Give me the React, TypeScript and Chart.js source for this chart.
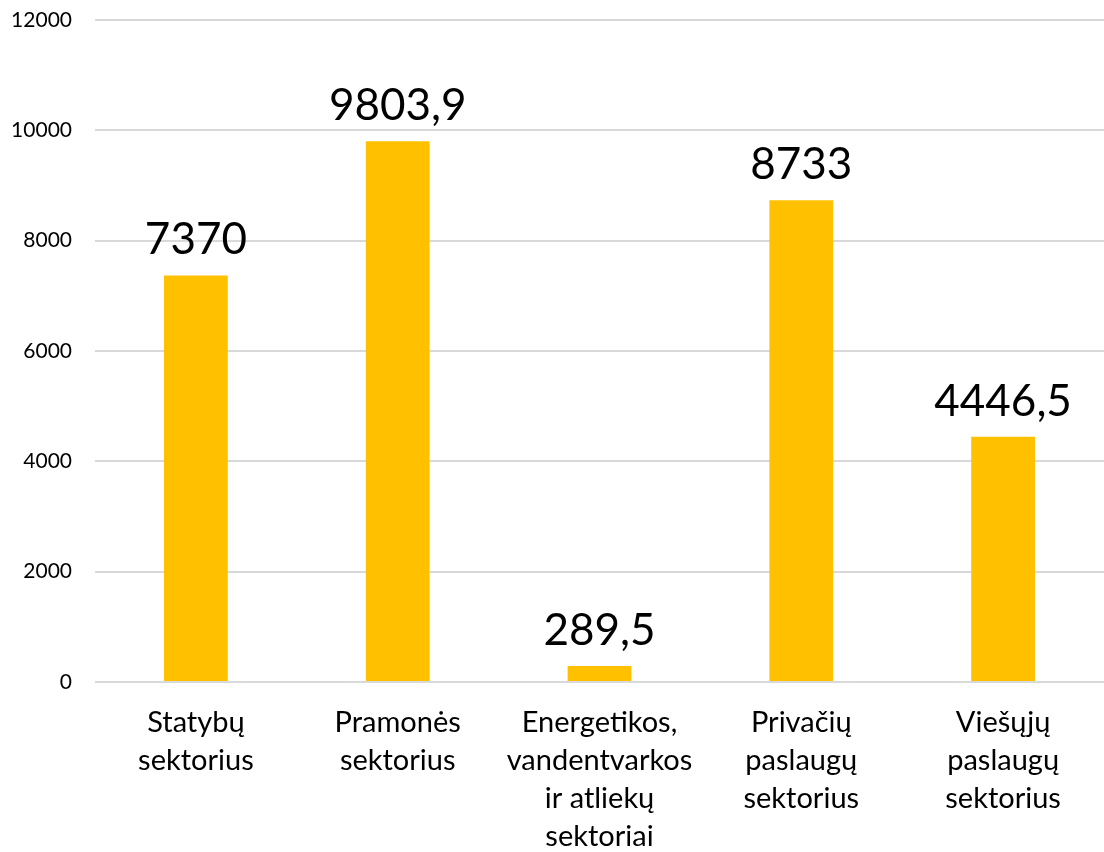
import React, { useEffect, useRef } from "react";
import { Chart, registerables } from "chart.js";

Chart.register(...registerables);

const categories: string[][] = [
  ["Statybų", "sektorius"],
  ["Pramonės", "sektorius"],
  ["Energetikos,", "vandentvarkos", "ir atliekų", "sektoriai"],
  ["Privačių", "paslaugų", "sektorius"],
  ["Viešųjų", "paslaugų", "sektorius"],
];
const values: number[] = [7370, 9803.9, 289.5, 8733, 4446.5];
const valueLabels: string[] = ["7370", "9803,9", "289,5", "8733", "4446,5"];
const yTicks: number[] = [0, 2000, 4000, 6000, 8000, 10000, 12000];

const FONT = "Lato, 'Open Sans', sans-serif";

const dataLabelPlugin = {
  id: "dataLabels",
  afterDatasetsDraw(chart: any) {
    const ctx = chart.ctx;
    const meta = chart.getDatasetMeta(0);
    ctx.save();
    ctx.fillStyle = "#000";
    ctx.font = `44px ${FONT}`;
    ctx.textAlign = "center";
    ctx.textBaseline = "alphabetic";
    meta.data.forEach((bar: any, i: number) => {
      ctx.fillText(valueLabels[i], bar.x, bar.y - 21);
    });
    ctx.restore();
  },
};

export default function App() {
  const ref = useRef<HTMLCanvasElement>(null);
  useEffect(() => {
    document.body.style.margin = "0";
    const chart = new Chart(ref.current!, {
      type: "bar",
      data: {
        labels: categories,
        datasets: [
          {
            data: values,
            backgroundColor: "#FFC000",
            barPercentage: 0.316,
            categoryPercentage: 1,
          },
        ],
      },
      options: {
        animation: false,
        responsive: false,
        layout: { padding: { top: 20, right: 0, left: 0, bottom: 0 } },
        plugins: { legend: { display: false }, tooltip: { enabled: false } },
        scales: {
          x: {
            grid: { display: false, drawTicks: false },
            border: { display: false },
            ticks: {
              color: "#000",
              font: { family: FONT, size: 29, lineHeight: 1.31 },
              maxRotation: 0,
              autoSkip: false,
              padding: 22,
            },
            afterFit: (axis: any) => {
              axis.height = 170;
            },
          },
          y: {
            min: 0,
            max: 12000,
            afterBuildTicks: (axis: any) => {
              axis.ticks = yTicks.map((v) => ({ value: v }));
            },
            afterFit: (axis: any) => {
              axis.width = 95;
            },
            grid: {
              color: "#D9D9D9",
              lineWidth: 2,
              drawTicks: true,
              tickLength: 23,
              tickColor: "rgba(0,0,0,0)",
            },
            border: { display: false },
            ticks: {
              color: "#000",
              font: { family: FONT, size: 21 },
              padding: 0,
              callback: (v: any) => String(v),
            },
          },
        },
      },
      plugins: [dataLabelPlugin],
    });
    return () => chart.destroy();
  }, []);
  return (
    <div style={{ position: "absolute", left: 0, top: 0, width: 1104, height: 852 }}>
      <canvas ref={ref} width={1104} height={852} style={{ display: "block" }} />
    </div>
  );
}
